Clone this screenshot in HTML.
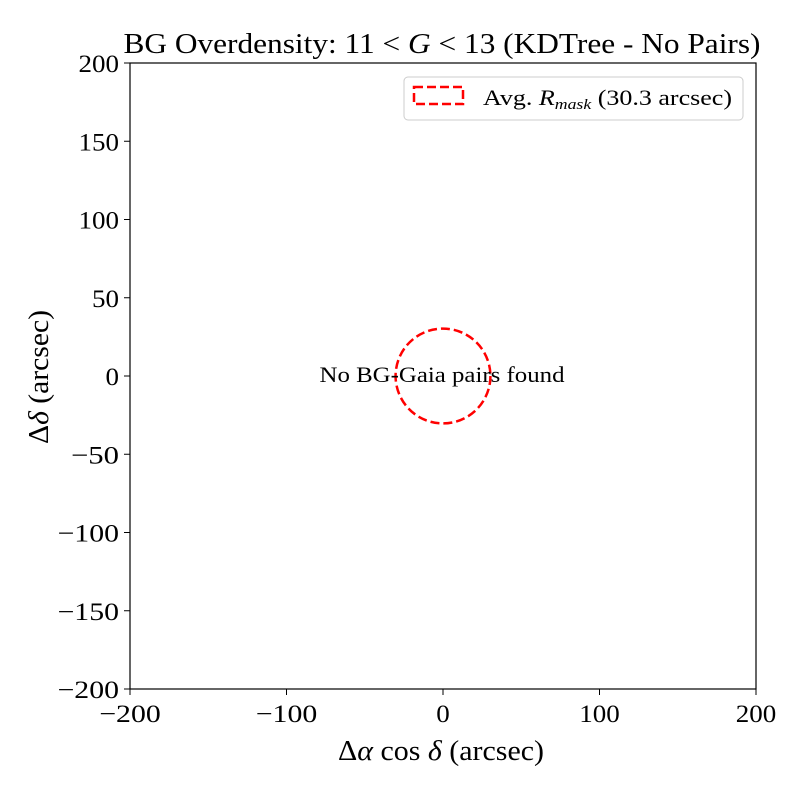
<!DOCTYPE html>
<html><head><meta charset="utf-8"><style>
body{margin:0;background:#fff}
svg text{font-family:"Liberation Serif","DejaVu Serif",serif;fill:#000}
</style></head><body>
<svg id="chart" width="800" height="800" viewBox="0 0 800 800" xmlns="http://www.w3.org/2000/svg"></svg>
<script>
const xTicks=[-200,-100,0,100,200];
const yTicks=[-200,-150,-100,-50,0,50,100,150,200];
const maskRadius=[30.3];
const centerPoint=[0,0];
const L=130,R=756,T=63,B=689;
const xs=v=>L+(v+200)/400*(R-L);
const ys=v=>B-(v+200)/400*(B-T);
const svg=document.getElementById('chart');
const NS='http://www.w3.org/2000/svg';
function mk(tag,attrs,parent){const e=document.createElementNS(NS,tag);for(const k in attrs)e.setAttribute(k,attrs[k]);(parent||svg).appendChild(e);return e;}
const fmt=v=>v<0?'\u2212'+Math.abs(v):''+v;
const labW=v=>{const s=String(Math.abs(v));return s.length*13.5+(v<0?21:0);};
let t=mk('text',{x:442,y:53,'text-anchor':'middle','font-size':28,textLength:637,lengthAdjust:'spacingAndGlyphs'});


t.innerHTML='BG Overdensity: 11 &lt; <tspan font-style="italic">G</tspan> &lt; 13 (KDTree - No Pairs)';
let f=mk('rect',{x:L,y:T,width:R-L,height:B-T,fill:'none',stroke:'#000','stroke-width':1.2});


xTicks.forEach(v=>{
  const x=xs(v);
  let l=mk('line',{x1:x,x2:x,y1:B,y2:B+6,stroke:'#000'});
  
  
  let tx=mk('text',{x:x,y:B+33,'text-anchor':'middle','font-size':25,textLength:labW(v),lengthAdjust:'spacingAndGlyphs'});
  
  
  tx.textContent=fmt(v);
});
yTicks.forEach(v=>{
  const y=ys(v);
  let l=mk('line',{x1:L-6,x2:L,y1:y,y2:y,stroke:'#000'});
  
  
  let tx=mk('text',{x:L-11,y:y+9,'text-anchor':'end','font-size':25,textLength:labW(v),lengthAdjust:'spacingAndGlyphs'});
  
  
  tx.textContent=fmt(v);
});
let xl=mk('text',{x:441,y:760,'text-anchor':'middle','font-size':29,textLength:206,lengthAdjust:'spacingAndGlyphs'});


xl.innerHTML='Δ<tspan font-style="italic">α</tspan> cos <tspan font-style="italic">δ</tspan> (arcsec)';
let yl=mk('text',{x:0,y:0,'text-anchor':'middle','font-size':29,textLength:134,lengthAdjust:'spacingAndGlyphs',transform:'translate(48,377) rotate(-90)'});


yl.innerHTML='Δ<tspan font-style="italic">δ</tspan> (arcsec)';
const pxPerUnit=(R-L)/400;
let c=mk('circle',{cx:xs(centerPoint[0]),cy:ys(centerPoint[1]),r:maskRadius[0]*pxPerUnit,fill:'none',stroke:'#f00','stroke-width':2.5,'stroke-dasharray':'9,4'});


let msg=mk('text',{x:442,y:382,'text-anchor':'middle','font-size':22,textLength:245,lengthAdjust:'spacingAndGlyphs'});


msg.textContent='No BG-Gaia pairs found';
let lg=mk('g',{});


mk('rect',{x:404,y:77,width:339,height:43,rx:4,fill:'#fff',stroke:'#ccc'},lg);
let sw=mk('rect',{x:414,y:87,width:49,height:17,fill:'none',stroke:'#f00','stroke-width':2.5,'stroke-dasharray':'9,4'},lg);


let lt=mk('text',{x:483,y:105,'font-size':22,textLength:249,lengthAdjust:'spacingAndGlyphs'},lg);


lt.innerHTML='Avg. <tspan font-style="italic">R</tspan><tspan font-style="italic" font-size="15" dy="4">mask</tspan><tspan dy="-4"> (30.3 arcsec)</tspan>';
</script>
</body></html>
